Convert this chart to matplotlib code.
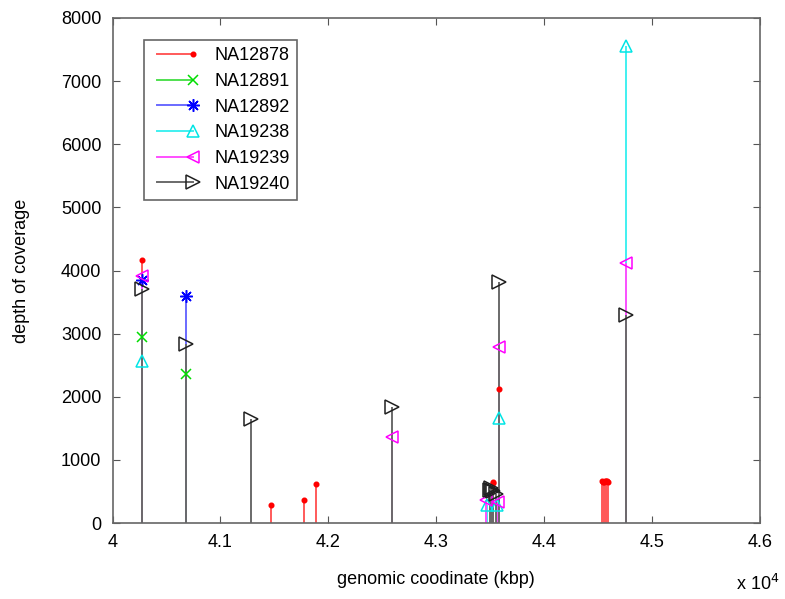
import matplotlib.pyplot as plt
from matplotlib.legend_handler import HandlerLine2D
from matplotlib.ticker import FuncFormatter, MultipleLocator

plt.rcParams['font.family'] = ['Liberation Sans', 'DejaVu Sans']

# genomic coordinate (kbp) and depth of coverage for each sample
na12878_x = [40270, 41466, 41772, 41886, 43522, 43528, 43584,
             44535, 44545, 44555, 44565, 44575, 44585, 44595]
na12878_y = [4160, 290, 370, 610, 650, 630, 2130,
             660, 650, 655, 660, 665, 660, 655]

na12891_x = [40270, 40681]
na12891_y = [2950, 2355]

na12892_x = [40270, 40681]
na12892_y = [3850, 3600]

na19238_x = [40270, 43470, 43560, 43584, 44756]
na19238_y = [2570, 280, 290, 1660, 7550]

na19239_x = [40270, 42593, 43460, 43570, 43584, 44756]
na19239_y = [3920, 1365, 360, 330, 2795, 4120]

na19240_x = [40270, 40681, 41283, 42593, 43495, 43505, 43515, 43525, 43550, 43584, 44756]
na19240_y = [3700, 2830, 1650, 1845, 520, 550, 530, 500, 460, 3825, 3296]

names = ["NA12878", "NA12891", "NA12892", "NA19238", "NA19239", "NA19240"]
xs_all = [na12878_x, na12891_x, na12892_x, na19238_x, na19239_x, na19240_x]
ys_all = [na12878_y, na12891_y, na12892_y, na19238_y, na19239_y, na19240_y]

mk_colors = ["#ff0000", "#00dd00", "#0000ff", "#00e5e5", "#ff00ff", "#202020"]
stem_colors = ["#ff5a5a", "#50e050", "#6a6aff", "#40f0f0", "#ff50ff", "#6a6a6a"]
markers = [".", "x", (8, 2, 0), "^", "<", ">"]
msizes = [6.5, 6.5, 9, 9, 9, 9.5]


class EndMarkerHandler(HandlerLine2D):
    # matlab-style legend: marker sits at the right end of the line
    def create_artists(self, legend, orig_handle, xdescent, ydescent,
                       width, height, fontsize, trans):
        arts = super().create_artists(legend, orig_handle, xdescent, ydescent,
                                      width, height, fontsize, trans)
        for a in arts:
            a.set_markevery([-1])
        return arts


fig = plt.figure(figsize=(7.85, 5.99), dpi=100)
ax = fig.add_axes([112.5 / 785, 1 - 523 / 599, 647.5 / 785, 505 / 599])

for xs, ys, sc in zip(xs_all, ys_all, stem_colors):
    ax.vlines(xs, 0, ys, color=sc, linewidth=1.4)

handles = []
for xs, ys, mc, sc, mk, ms in zip(xs_all, ys_all, mk_colors, stem_colors, markers, msizes):
    fc = mc if mk == "." else "none"
    ax.plot(xs, ys, linestyle="none", marker=mk, markersize=ms,
            markerfacecolor=fc, markeredgecolor=mc, markeredgewidth=1.1)
    h, = ax.plot([], [], color=sc, linewidth=1.4, marker=mk, markersize=ms,
                 markerfacecolor=fc, markeredgecolor=mc, markeredgewidth=1.1)
    handles.append(h)

ax.set_xlim(40000, 46000)
ax.set_ylim(0, 8000)
ax.xaxis.set_major_locator(MultipleLocator(1000))
ax.yaxis.set_major_locator(MultipleLocator(1000))
ax.xaxis.set_major_formatter(FuncFormatter(lambda v, p: "%g" % (v / 1e4)))
ax.tick_params(direction="in", top=True, right=True, length=5, labelsize=13,
               color="#555555", pad=8)
for s in ax.spines.values():
    s.set_color("#666666")
    s.set_linewidth(1.2)

ax.set_xlabel("genomic coodinate (kbp)", fontsize=13, labelpad=14)
ax.set_ylabel("depth of coverage", fontsize=13, labelpad=22)
fig.text(758 / 785, 0.025, r"x 10$^{4}$", fontsize=13, ha="center", va="center")

leg = ax.legend(handles, names, loc="upper left",
                bbox_to_anchor=(31.5 / 647.5, 1 - 22 / 505), borderaxespad=0,
                numpoints=2, handler_map={h: EndMarkerHandler(numpoints=2) for h in handles},
                fontsize=13, handlelength=2.6, handletextpad=0.9, labelspacing=0.48,
                fancybox=False, edgecolor="#666666", framealpha=1)
leg.get_frame().set_linewidth(1.2)

fig.savefig("out.png", dpi=100)
